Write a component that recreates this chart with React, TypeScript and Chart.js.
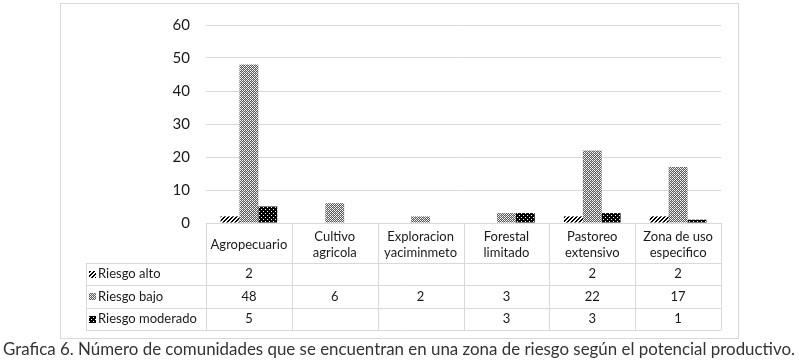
import React, { useEffect, useRef } from "react";
import { Chart, registerables } from "chart.js";

Chart.register(...registerables);

const categories: string[][] = [
  ["Agropecuario"],
  ["Cultivo", "agricola"],
  ["Exploracion", "yaciminmeto"],
  ["Forestal", "limitado"],
  ["Pastoreo", "extensivo"],
  ["Zona de uso", "especifico"],
];
const seriesNames = ["Riesgo alto", "Riesgo bajo", "Riesgo moderado"];
const riesgoAlto: (number | null)[] = [2, null, null, null, 2, 2];
const riesgoBajo: (number | null)[] = [48, 6, 2, 3, 22, 17];
const riesgoModerado: (number | null)[] = [5, null, null, 3, 3, 1];
const yTicks = [0, 10, 20, 30, 40, 50, 60];
const caption =
  "Grafica 6. Número de comunidades que se encuentran en una zona de riesgo según el potencial productivo.";

function makePattern(kind: number): CanvasPattern | string {
  const c = document.createElement("canvas");
  const s = 4;
  c.width = s;
  c.height = s;
  const g = c.getContext("2d")!;
  for (let y = 0; y < s; y++) {
    for (let x = 0; x < s; x++) {
      let col = "#ffffff";
      if (kind === 0) {
        col = (x + y) % 4 < 2 ? "#000000" : "#ffffff";
      } else if (kind === 1) {
        const m = [
          ["#ffffff", "#5a5a5a", "#ffffff", "#5a5a5a"],
          ["#5a5a5a", "#f0f0f0", "#5a5a5a", "#b0b0b0"],
          ["#ffffff", "#5a5a5a", "#ffffff", "#5a5a5a"],
          ["#5a5a5a", "#b0b0b0", "#5a5a5a", "#f0f0f0"],
        ];
        col = m[y][x];
      } else {
        col = (x === 1 && y === 1) || (x === 3 && y === 3) ? "#ffffff" : "#000000";
      }
      g.fillStyle = col;
      g.fillRect(x, y, 1, 1);
    }
  }
  const p = g.createPattern(c, "repeat");
  return p || "#888";
}

export default function App() {
  const ref = useRef<HTMLCanvasElement | null>(null);

  useEffect(() => {
    const canvas = ref.current!;
    const patterns = [makePattern(0), makePattern(1), makePattern(2)];
    const seriesData = [riesgoAlto, riesgoBajo, riesgoModerado];
    const textColor = "#1a1a1a";
    const lineColor = "#d9d9d9";

    const tablePlugin = {
      id: "tablePlugin",
      beforeDraw(chart: any) {
        const ctx = chart.ctx as CanvasRenderingContext2D;
        ctx.save();
        ctx.fillStyle = "#ffffff";
        ctx.fillRect(0, 0, chart.width, chart.height);
        ctx.strokeStyle = lineColor;
        ctx.lineWidth = 1;
        ctx.strokeRect(60.5, 3.5, 678, 335);
        ctx.restore();
      },
      afterDraw(chart: any) {
        const ctx = chart.ctx as CanvasRenderingContext2D;
        const ca = chart.chartArea;
        const xs = chart.scales.x;
        const n = categories.length;
        const colW = (ca.right - ca.left) / n;
        const top = ca.bottom;
        const headerH = 40;
        const rowH = 22.4;
        const tableLeft = 86;
        const tableBottom = top + headerH + rowH * seriesNames.length;
        ctx.save();
        ctx.strokeStyle = lineColor;
        ctx.lineWidth = 1;
        ctx.beginPath();
        for (let i = 0; i <= n; i++) {
          const x = Math.round(ca.left + i * colW) + 0.5;
          ctx.moveTo(x, top);
          ctx.lineTo(x, tableBottom);
        }
        const lx = tableLeft + 0.5;
        ctx.moveTo(lx, top + headerH);
        ctx.lineTo(lx, tableBottom);
        for (let k = 0; k <= seriesNames.length; k++) {
          const y = Math.round(top + headerH + k * rowH) + 0.5;
          ctx.moveTo(tableLeft, y);
          ctx.lineTo(ca.right, y);
        }
        ctx.stroke();

        ctx.fillStyle = textColor;
        ctx.font = "13px Lato";
        ctx.textAlign = "center";
        ctx.textBaseline = "middle";
        categories.forEach((lines, i) => {
          const cx = xs.getPixelForValue(i);
          const lh = 16;
          const cy = top + 22;
          lines.forEach((ln, j) => {
            const y = cy + (j - (lines.length - 1) / 2) * lh;
            ctx.fillText(ln, cx, y);
          });
        });
        seriesNames.forEach((name, r) => {
          const cy = top + headerH + (r + 0.5) * rowH;
          ctx.fillStyle = patterns[r] as any;
          ctx.fillRect(89, Math.round(cy - 3.5), 7, 7);
          ctx.fillStyle = textColor;
          ctx.textAlign = "left";
          ctx.fillText(name, 98, cy);
          ctx.textAlign = "center";
          seriesData[r].forEach((v, i) => {
            if (v === null || v === undefined) return;
            ctx.fillText(String(v), xs.getPixelForValue(i), cy);
          });
        });

        ctx.fillStyle = "#333333";
        ctx.font = "17px Lato";
        ctx.textAlign = "left";
        ctx.textBaseline = "middle";
        ctx.fillText(caption, 3, 350, 792);
        ctx.restore();
      },
    };

    const chart = new Chart(canvas, {
      type: "bar",
      data: {
        labels: categories.map((c) => c.join(" ")),
        datasets: seriesNames.map((name, i) => ({
          label: name,
          data: seriesData[i],
          backgroundColor: patterns[i] as any,
          borderWidth: 0,
          categoryPercentage: 0.66,
          barPercentage: 1.0,
        })),
      },
      options: {
        responsive: false,
        animation: false,
        layout: { padding: { left: 166, right: 78, top: 22, bottom: 140 } },
        plugins: {
          legend: { display: false },
          tooltip: { enabled: false },
        },
        scales: {
          x: { display: false },
          y: {
            min: 0,
            max: 60,
            afterFit: (s: any) => {
              s.width = 40;
            },
            afterBuildTicks: (s: any) => {
              s.ticks = yTicks.map((v) => ({ value: v }));
            },
            border: { display: false },
            grid: { color: lineColor, lineWidth: 1, drawTicks: false },
            ticks: {
              padding: 16,
              color: textColor,
              font: { family: "Lato", size: 15 },
            },
          },
        },
      },
      plugins: [tablePlugin],
    });
    return () => chart.destroy();
  }, []);

  return (
    <div style={{ position: "absolute", left: 0, top: 0, width: 799, height: 363 }}>
      <canvas ref={ref} width={799} height={363} style={{ display: "block" }} />
    </div>
  );
}
